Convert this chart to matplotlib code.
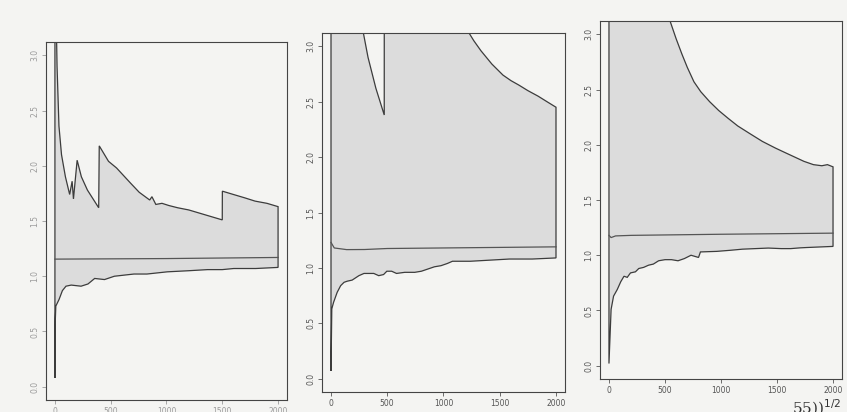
import matplotlib
matplotlib.use("Agg")
import matplotlib.pyplot as plt

# ---------------- data ----------------
# Panel 1
p1_upper_x = [1, 8, 20, 37, 60, 95, 133, 155, 167, 200, 238, 292, 393, 398, 481, 553,
              681, 756, 850, 870, 905, 960, 1022, 1100, 1200, 1300, 1400, 1500, 1501,
              1600, 1700, 1794, 1900, 2000]
p1_upper_y = [6.0, 3.6, 2.9, 2.36, 2.10, 1.90, 1.74, 1.86, 1.70, 2.05, 1.90, 1.78, 1.62,
              2.18, 2.04, 1.98, 1.84, 1.76, 1.69, 1.72, 1.65, 1.66, 1.64, 1.62, 1.60,
              1.57, 1.54, 1.51, 1.77, 1.74, 1.71, 1.68, 1.66, 1.63]
p1_lower_x = [1, 5, 9, 38, 68, 100, 147, 235, 297, 357, 445, 533, 620, 709, 825, 1008,
              1200, 1368, 1500, 1603, 1800, 2000]
p1_lower_y = [0.08, 0.62, 0.73, 0.79, 0.87, 0.91, 0.92, 0.91, 0.93, 0.98, 0.97, 1.00,
              1.01, 1.02, 1.02, 1.04, 1.05, 1.06, 1.06, 1.07, 1.07, 1.08]
p1_mid_x = [1, 1000, 2000]
p1_mid_y = [1.155, 1.160, 1.170]

# Panel 2
p2_upper_x = [1, 283, 330, 400, 474, 475, 1209, 1270, 1333, 1430, 1529, 1600, 1670,
              1750, 1841, 1920, 2000]
p2_upper_y = [6.0, 3.15, 2.90, 2.62, 2.38, 6.0, 3.15, 3.05, 2.96, 2.84, 2.74, 2.69,
              2.65, 2.60, 2.55, 2.50, 2.45]
p2_lower_x = [1, 8, 24, 56, 87, 117, 145, 189, 219, 249, 294, 338, 381, 425, 468, 497,
              540, 583, 656, 745, 804, 862, 920, 978, 1035, 1080, 1239, 1413, 1586,
              1789, 2000]
p2_lower_y = [0.07, 0.63, 0.69, 0.78, 0.84, 0.87, 0.88, 0.89, 0.91, 0.93, 0.95, 0.95,
              0.95, 0.93, 0.94, 0.97, 0.97, 0.95, 0.96, 0.96, 0.97, 0.99, 1.01, 1.02,
              1.04, 1.06, 1.06, 1.07, 1.08, 1.08, 1.09]
p2_mid_x = [1, 30, 140, 300, 500, 1000, 2000]
p2_mid_y = [1.23, 1.18, 1.165, 1.166, 1.175, 1.18, 1.19]

# Panel 3
p3_upper_x = [1, 546, 600, 652, 700, 759, 820, 899, 980, 1063, 1150, 1259, 1370, 1486,
              1570, 1655, 1740, 1825, 1900, 1950, 2000]
p3_upper_y = [6.0, 3.12, 2.96, 2.82, 2.70, 2.57, 2.48, 2.39, 2.31, 2.24, 2.17, 2.10,
              2.03, 1.97, 1.93, 1.89, 1.85, 1.82, 1.81, 1.82, 1.80]
p3_lower_x = [1, 20, 42, 75, 106, 135, 164, 193, 237, 267, 310, 354, 397, 444, 501, 559,
              617, 674, 733, 800, 817, 962, 1085, 1192, 1306, 1423, 1538, 1622, 1708,
              1766, 2000]
p3_lower_y = [0.02, 0.51, 0.63, 0.69, 0.76, 0.81, 0.80, 0.84, 0.85, 0.88, 0.89, 0.91,
              0.92, 0.95, 0.96, 0.96, 0.95, 0.97, 1.00, 0.98, 1.03, 1.035, 1.045, 1.055,
              1.06, 1.065, 1.06, 1.06, 1.067, 1.07, 1.08]
p3_mid_x = [1, 20, 60, 200, 1000, 2000]
p3_mid_y = [1.18, 1.16, 1.175, 1.18, 1.19, 1.20]

x_ticks = [0, 500, 1000, 1500, 2000]
y_ticks = [0.0, 0.5, 1.0, 1.5, 2.0, 2.5, 3.0]
y_tick_labels = ["0.0", "0.5", "1.0", "1.5", "2.0", "2.5", "3.0"]

panels = [
    (p1_upper_x, p1_upper_y, p1_lower_x, p1_lower_y, p1_mid_x, p1_mid_y),
    (p2_upper_x, p2_upper_y, p2_lower_x, p2_lower_y, p2_mid_x, p2_mid_y),
    (p3_upper_x, p3_upper_y, p3_lower_x, p3_lower_y, p3_mid_x, p3_mid_y),
]

# ---------------- layout ----------------
W, H = 847, 412
paper = "#f4f4f2"
fill_col = "#dcdcdc"
line_col = "#3c3c3c"

fig = plt.figure(figsize=(W / 100, H / 100), dpi=100, facecolor=paper)

boxes = [  # left, right, top, bottom in pixels
    (46, 287, 42, 400),
    (322, 565, 33, 392),
    (600, 842, 21, 379),
]
text_cols = ["#9a9a9a", "#555555", "#555555"]

for (ux, uy, lx, ly, mx, my), (l, r, t, b), tc in zip(panels, boxes, text_cols):
    ax = fig.add_axes([l / W, 1 - b / H, (r - l) / W, (b - t) / H])
    ax.set_facecolor(paper)
    poly_x = list(ux) + list(lx)[::-1]
    poly_y = list(uy) + list(ly)[::-1]
    ax.fill(poly_x, poly_y, facecolor=fill_col, edgecolor=line_col, linewidth=0.9)
    ax.plot(mx, my, color="#555555", linewidth=0.9)
    ax.set_xlim(-79, 2080)
    ax.set_ylim(-0.12, 3.12)
    ax.set_xticks(x_ticks)
    ax.set_xticklabels([str(v) for v in x_ticks], fontsize=5.5, color=tc)
    ax.set_yticks(y_ticks)
    ax.set_yticklabels(y_tick_labels, fontsize=5.5, color=tc, rotation=90, va="center")
    ax.tick_params(length=3, width=0.6, colors=tc, pad=2)
    for s in ax.spines.values():
        s.set_color("#444444")
        s.set_linewidth(0.8)

fig.text(792 / W, -0.015, r"55))$^{1/2}$", fontsize=11, family="DejaVu Serif",
         color="#333333", ha="left", va="bottom")

fig.savefig("out.png", dpi=100, facecolor=paper)
